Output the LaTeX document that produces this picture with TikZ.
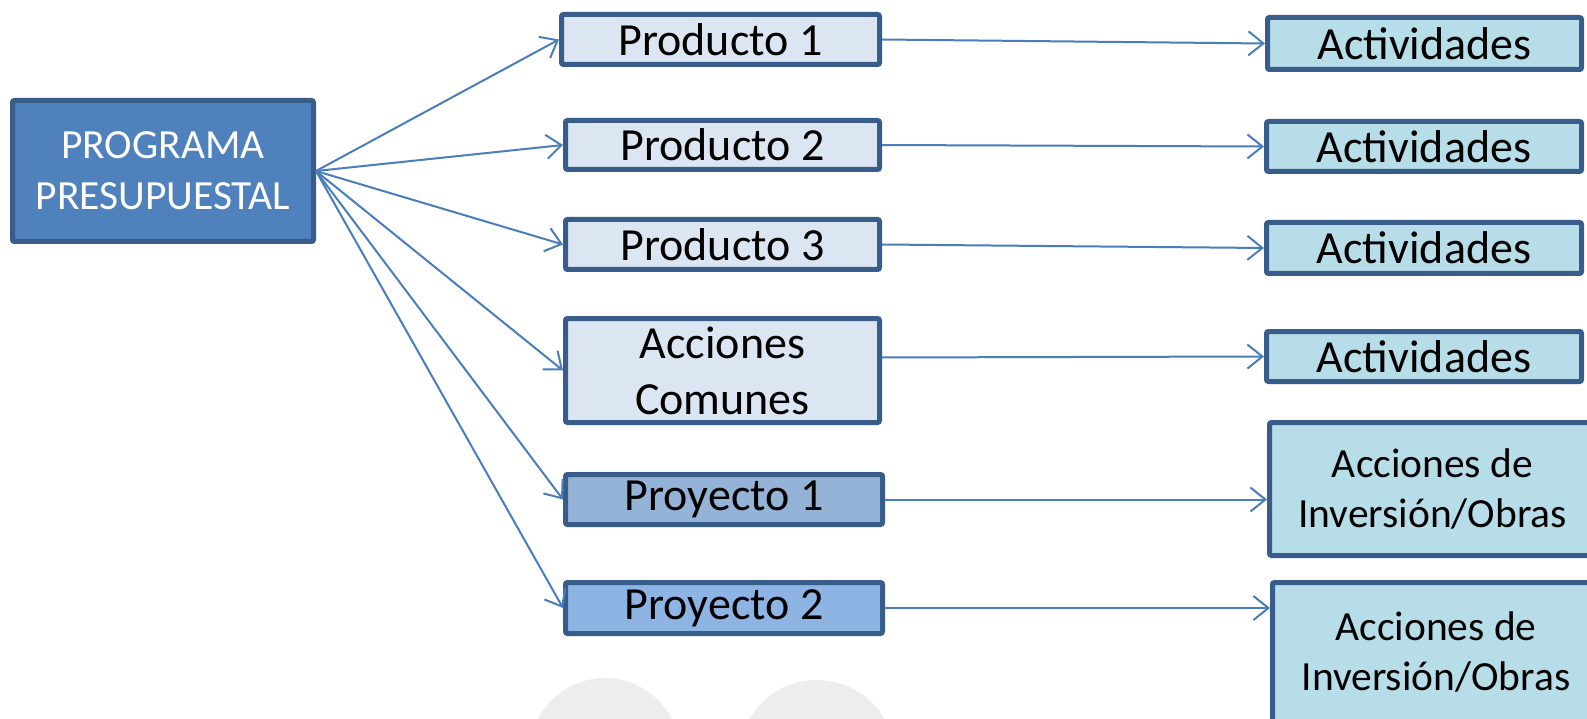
\documentclass[tikz,border=0pt]{standalone}
\usepackage{fontspec}
\setmainfont{Carlito}
\usetikzlibrary{arrows.meta}
\definecolor{progfill}{HTML}{4F81BD}
\definecolor{edgecol}{HTML}{385D8A}
\definecolor{prodfill}{HTML}{DCE6F2}
\definecolor{proy1fill}{HTML}{95B3D7}
\definecolor{proy2fill}{HTML}{8EB4E3}
\definecolor{actfill}{HTML}{B7DEE8}
\definecolor{arrowcol}{HTML}{4A7EBB}
\definecolor{wmark}{HTML}{EDEDED}
\tikzset{
  box/.style={draw=edgecol, line width=5pt, rounded corners=2pt, inner sep=0pt,
    align=center, text=black, font=\fontsize{46}{56}\selectfont},
  progbox/.style={box, fill=progfill, text=white, font=\fontsize{41.5}{51}\selectfont},
  prodbox/.style={box, fill=prodfill},
  actbox/.style={box, fill=actfill},
  invbox/.style={box, fill=actfill, font=\fontsize{41.5}{50}\selectfont},
  conn/.style={draw=arrowcol, line width=2pt, -{Straight Barb[length=15pt,width=24pt,line width=2pt]}},
}
\begin{document}
\begin{tikzpicture}[x=1pt,y=-1pt]
\useasboundingbox (0,0) rectangle (1587,719);
\clip (0,0) rectangle (1587,719);
\fill[white] (0,0) rectangle (1587,719);
% faint background marks
\fill[wmark] (605,753) circle (75);
\fill[wmark] (817,758) circle (78);
% nodes
\node[progbox, minimum width=301pt, minimum height=141pt] (prog) at (163,171) {PROGRAMA\\PRESUPUESTAL};
\node[prodbox, minimum width=318pt, minimum height=50pt] (p1) at (720.5,39.5) {Producto 1};
\node[prodbox, minimum width=314pt, minimum height=49pt] (p2) at (722.5,145) {Producto 2};
\node[prodbox, minimum width=314pt, minimum height=50pt] (p3) at (722.5,244.5) {Producto 3};
\node[prodbox, minimum width=314pt, minimum height=104pt] (ac) at (722.5,370.5) {Acciones\\Comunes};
\node[box, fill=proy1fill, minimum width=317pt, minimum height=50pt] (pr1) at (724,499.5) {Proyecto 1};
\node[box, fill=proy2fill, minimum width=317pt, minimum height=51pt] (pr2) at (724,608) {Proyecto 2};
\node[actbox, minimum width=314pt, minimum height=52pt] (a1) at (1424.5,43.5) {Actividades};
\node[actbox, minimum width=315pt, minimum height=50pt] (a2) at (1424,146.5) {Actividades};
\node[actbox, minimum width=315pt, minimum height=51pt] (a3) at (1424,248) {Actividades};
\node[actbox, minimum width=315pt, minimum height=50pt] (a4) at (1424,356.5) {Actividades};
\node[invbox, minimum width=326pt, minimum height=133pt] (i1) at (1432.5,489) {Acciones de\\Inversión/Obras};
\node[invbox, minimum width=327pt, minimum height=139pt] (i2) at (1436,652) {Acciones de\\Inversión/Obras};
% connectors from the programme
\draw[conn] (prog.east) -- (p1.west);
\draw[conn] (prog.east) -- (p2.west);
\draw[conn] (prog.east) -- (p3.west);
\draw[conn] (prog.east) -- (ac.west);
\draw[conn] (prog.east) -- (pr1.west);
\draw[conn] (prog.east) -- (pr2.west);
% connectors to the right column
\draw[conn] (p1.east) -- (a1.west);
\draw[conn] (p2.east) -- (a2.west);
\draw[conn] (p3.east) -- (a3.west);
\draw[conn] ([yshift=13pt]ac.east) -- (a4.west);
\draw[conn] (pr1.east) -- (pr1.east -| i1.west);
\draw[conn] (pr2.east) -- (pr2.east -| i2.west);
\end{tikzpicture}
\end{document}
